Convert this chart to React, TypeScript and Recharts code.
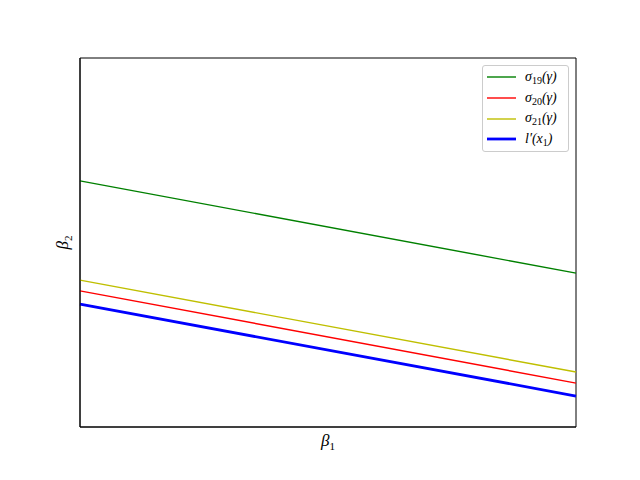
import { LineChart, Line, XAxis, YAxis, Label, ReferenceArea } from 'recharts'

// two end points of each straight line, beta1 in [0, 1]
const beta1 = [0, 1]
const sigma19 = [6.67, 4.17]
const sigma20 = [3.69, 1.19]
const sigma21 = [3.98, 1.49]
const lPrime = [3.33, 0.84]

const data = beta1.map((x, i) => ({
  x,
  s19: sigma19[i],
  s20: sigma20[i],
  s21: sigma21[i],
  lp: lPrime[i],
}))

const series = [
  { key: 's19', color: '#008000', width: 1.4, name: 'σ', sub: '19', tail: '(γ)' },
  { key: 's20', color: '#ff0000', width: 1.4, name: 'σ', sub: '20', tail: '(γ)' },
  { key: 's21', color: '#bfbf00', width: 1.4, name: 'σ', sub: '21', tail: '(γ)' },
  { key: 'lp', color: '#0000ff', width: 2.8, name: 'l′(x', sub: '1', tail: ')' },
]

const mathFont = '"Liberation Serif", "DejaVu Serif", serif'

function LegendBox() {
  return (
    <div
      style={{
        position: 'absolute',
        left: 482,
        top: 65,
        width: 87,
        height: 87,
        boxSizing: 'border-box',
        border: '1px solid #cccccc',
        borderRadius: 3,
        background: 'rgba(255,255,255,0.8)',
        paddingTop: 1,
      }}
    >
      {series.map((s) => (
        <div
          key={s.key}
          style={{ display: 'flex', alignItems: 'center', height: 20.7 }}
        >
          <svg width={33} height={6} style={{ display: 'block' }}>
            <line
              x1={4}
              x2={33}
              y1={3}
              y2={3}
              stroke={s.color}
              strokeWidth={s.width}
            />
          </svg>
          <span
            style={{
              marginLeft: 9,
              fontFamily: mathFont,
              fontStyle: 'italic',
              fontSize: 14,
              lineHeight: '14px',
              color: '#000',
              whiteSpace: 'nowrap',
            }}
          >
            {s.name}
            <span
              style={{
                fontSize: 10,
                fontStyle: 'normal',
                position: 'relative',
                top: 3,
              }}
            >
              {s.sub}
            </span>
            {s.tail}
          </span>
        </div>
      ))}
    </div>
  )
}

export default function App() {
  return (
    <div style={{ position: 'absolute', left: 0, top: 0, width: 640, height: 480, background: '#fff' }}>
      <LineChart
        width={640}
        height={480}
        data={data}
        margin={{ top: 58, right: 64, bottom: 0, left: 0 }}
      >
        <XAxis
          dataKey="x"
          type="number"
          domain={[0, 1]}
          tick={false}
          tickLine={false}
          height={53}
          axisLine={{ stroke: '#000', strokeWidth: 1 }}
        >
          <Label
            content={({ viewBox }: any) => (
              <text
                x={viewBox.x + viewBox.width / 2}
                y={viewBox.y + 19}
                textAnchor="middle"
                fontFamily={mathFont}
                fontStyle="italic"
                fontSize={17}
                fill="#000"
              >
                β<tspan fontSize={11} dy={4} fontStyle="normal">1</tspan>
              </text>
            )}
          />
        </XAxis>
        <YAxis
          type="number"
          domain={[0, 10]}
          tick={false}
          tickLine={false}
          width={80}
          axisLine={{ stroke: '#000', strokeWidth: 1 }}
        >
          <Label
            content={({ viewBox }: any) => {
              const cx = 68
              const cy = viewBox.y + viewBox.height / 2
              return (
                <text
                  x={cx}
                  y={cy}
                  transform={`rotate(-90 ${cx} ${cy})`}
                  textAnchor="middle"
                  fontFamily={mathFont}
                  fontStyle="italic"
                  fontSize={17}
                  fill="#000"
                >
                  β<tspan fontSize={11} dy={4} fontStyle="normal">2</tspan>
                </text>
              )
            }}
          />
        </YAxis>
        <ReferenceArea
          x1={0}
          x2={1}
          y1={0}
          y2={10}
          fill="none"
          stroke="#000"
          strokeWidth={1}
          ifOverflow="visible"
        />
        {series.map((s) => (
          <Line
            key={s.key}
            dataKey={s.key}
            stroke={s.color}
            strokeWidth={s.width}
            dot={false}
            isAnimationActive={false}
          />
        ))}
      </LineChart>
      <LegendBox />
    </div>
  )
}
